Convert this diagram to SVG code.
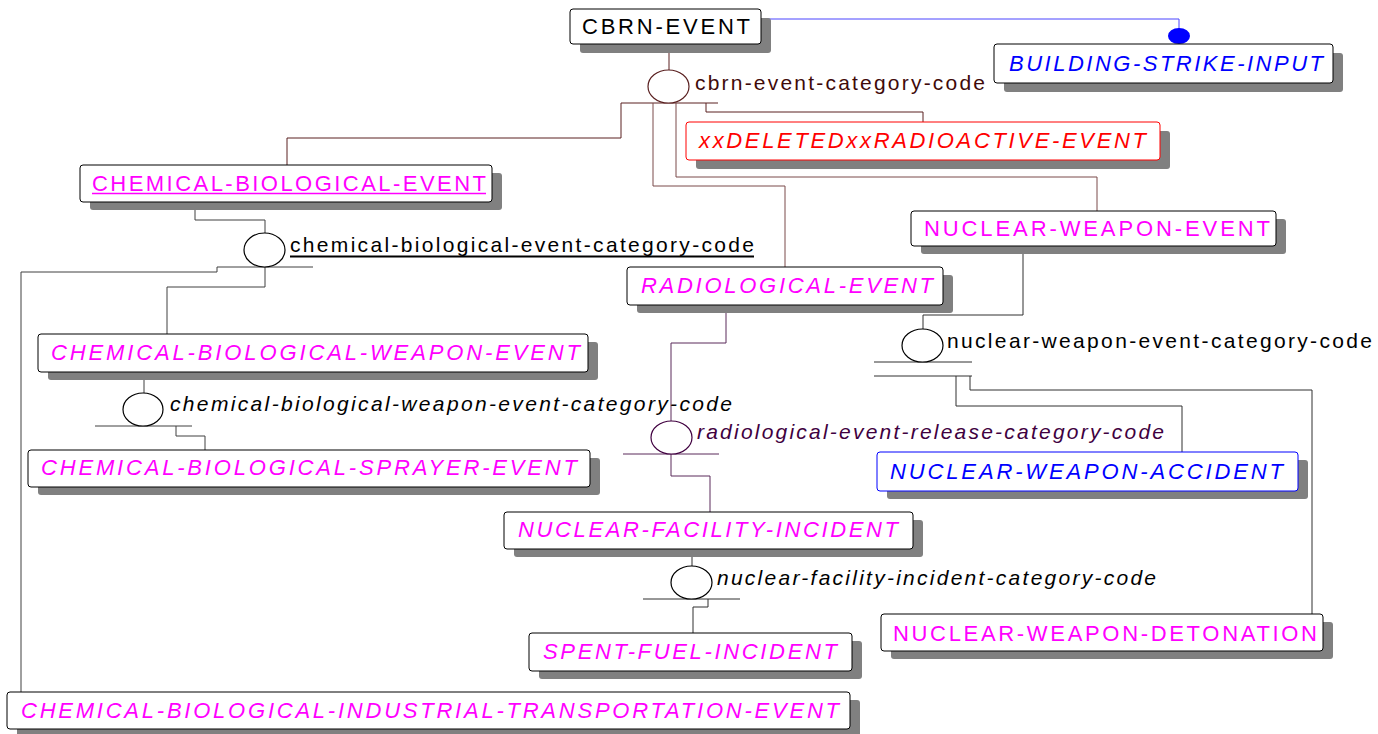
<svg xmlns="http://www.w3.org/2000/svg" width="1378" height="734" viewBox="0 0 1378 734">
<style>
.box{fill:#fff;stroke:#000;stroke-width:1}
.sh{fill:#808080}
.t{font-family:"Liberation Sans",Arial,sans-serif;font-size:22px}
.it{font-style:italic}
.mag{fill:#ff00ff}
.lbl{font-family:"Liberation Sans",Arial,sans-serif;font-size:21px}
.c{fill:none;stroke-width:1}
.ell{fill:#fff;stroke-width:1.2}
</style>
<rect width="1378" height="734" fill="#fff"/>
<g id="connectors">
  <polyline class="c" stroke="#4a44ff" points="761,19 1179,19 1179,30"/>
  <ellipse cx="1179" cy="36" rx="11" ry="8" fill="#0000ff"/>
  <g stroke="#5a2020">
    <polyline class="c" points="669,44 669,70"/>
    <polyline class="c" points="621,103 718,103"/>
    <polyline class="c" points="621,103 621,138 287,138 287,165"/>
    <polyline class="c" stroke="#7a4a4a" points="653,103 653,186 785,186 785,267"/>
    <polyline class="c" stroke="#7a4a4a" points="676,103 676,177 1097,177 1097,211"/>
    <polyline class="c" points="706,103 706,112 923,112 923,122"/>
    <ellipse class="ell" cx="668.5" cy="86.5" rx="20.5" ry="16.5"/>
  </g>
  <g stroke="#404040">
    <polyline class="c" points="195,202 195,220 265,220 265,233"/>
    <polyline class="c" points="217,267 313,267"/>
    <polyline class="c" points="217,267 217,272 21,272 21,692"/>
    <polyline class="c" points="265,267 265,287 167,287 167,334"/>
    <ellipse class="ell" stroke="#000" cx="264.5" cy="250" rx="20.5" ry="17"/>
    <polyline class="c" points="144,372 144,393"/>
    <polyline class="c" points="95,426 192,426"/>
    <polyline class="c" points="176,426 176,436 205,436 205,450"/>
    <ellipse class="ell" stroke="#000" cx="143" cy="409.5" rx="20" ry="16.5"/>
  </g>
  <g stroke="#5a2a5a">
    <polyline class="c" points="726,305 726,343 671,343 671,421"/>
    <polyline class="c" points="623,454 719,454"/>
    <polyline class="c" points="671,454 671,476 710,476 710,512"/>
    <ellipse class="ell" stroke="#400040" cx="671.5" cy="437.5" rx="20.5" ry="16.5"/>
  </g>
  <g stroke="#303030">
    <polyline class="c" points="1023,246 1023,315 923,315 923,329"/>
    <polyline class="c" points="874,362 972,362"/>
    <polyline class="c" points="874,376 972,376"/>
    <polyline class="c" points="956,376 956,406 1182,406 1182,452"/>
    <polyline class="c" points="970,376 970,390 1312,390 1312,614"/>
    <ellipse class="ell" stroke="#000" cx="922.5" cy="345.5" rx="20.5" ry="16.5"/>
    <polyline class="c" points="692,549 692,566"/>
    <polyline class="c" points="643,599 740,599"/>
    <polyline class="c" points="708,599 708,607 693,607 693,633"/>
    <ellipse class="ell" stroke="#000" cx="691.5" cy="582.5" rx="20.5" ry="16.5"/>
  </g>
  <text class="lbl" x="695" y="90" fill="#3f0a0a" textLength="290" lengthAdjust="spacing">cbrn-event-category-code</text>
  <text class="lbl" x="290" y="252" fill="#000" textLength="464" lengthAdjust="spacing">chemical-biological-event-category-code</text>
  <line x1="290" y1="256.5" x2="754" y2="256.5" stroke="#000" stroke-width="2"/>
  <text class="lbl it" x="170" y="411" fill="#000" textLength="562" lengthAdjust="spacing">chemical-biological-weapon-event-category-code</text>
  <text class="lbl" x="947" y="348" fill="#000" textLength="425" lengthAdjust="spacing">nuclear-weapon-event-category-code</text>
  <text class="lbl it" x="697" y="439" fill="#400040" textLength="467" lengthAdjust="spacing">radiological-event-release-category-code</text>
  <text class="lbl it" x="717" y="585" fill="#000" textLength="439" lengthAdjust="spacing">nuclear-facility-incident-category-code</text>
</g>
<g id="cbrn-event">
  <rect class="sh" x="580" y="18" width="191" height="35" rx="3"/>
  <rect class="box" x="570" y="9" width="191" height="35" rx="3"/>
  <text class="t" x="582" y="34" fill="#000" textLength="168" lengthAdjust="spacing">CBRN-EVENT</text>
</g>
<g id="building-strike-input">
  <rect class="sh" x="1004" y="53" width="339" height="39" rx="3"/>
  <rect class="box" x="994" y="44" width="339" height="39" rx="3"/>
  <text class="t it" x="1009" y="71" fill="#0000ff" textLength="314" lengthAdjust="spacing">BUILDING-STRIKE-INPUT</text>
</g>
<g id="deleted-radioactive-event">
  <rect class="sh" x="696" y="131" width="474" height="38" rx="3"/>
  <rect class="box" style="stroke:#ff0000" x="686" y="122" width="474" height="38" rx="3"/>
  <text class="t it" x="699" y="148" fill="#ff0000" textLength="447" lengthAdjust="spacing">xxDELETEDxxRADIOACTIVE-EVENT</text>
</g>
<g id="chemical-biological-event">
  <rect class="sh" x="90" y="173" width="412" height="37" rx="3"/>
  <rect class="box" x="80" y="165" width="412" height="37" rx="3"/>
  <text class="t mag" x="92" y="191" textLength="394" lengthAdjust="spacing">CHEMICAL-BIOLOGICAL-EVENT</text>
  <line x1="92" y1="193.5" x2="486" y2="193.5" stroke="#ff00ff" stroke-width="1.5"/>
</g>
<g id="nuclear-weapon-event">
  <rect class="sh" x="921" y="219" width="365" height="35" rx="3"/>
  <rect class="box" x="911" y="211" width="365" height="35" rx="3"/>
  <text class="t mag" x="924" y="236" textLength="346" lengthAdjust="spacing">NUCLEAR-WEAPON-EVENT</text>
</g>
<g id="radiological-event">
  <rect class="sh" x="637" y="275" width="316" height="38" rx="3"/>
  <rect class="box" x="627" y="267" width="316" height="38" rx="3"/>
  <text class="t it mag" x="641" y="293" textLength="292" lengthAdjust="spacing">RADIOLOGICAL-EVENT</text>
</g>
<g id="chemical-biological-weapon-event">
  <rect class="sh" x="48" y="342" width="550" height="38" rx="3"/>
  <rect class="box" x="38" y="334" width="550" height="38" rx="3"/>
  <text class="t it mag" x="51" y="360" textLength="529" lengthAdjust="spacing">CHEMICAL-BIOLOGICAL-WEAPON-EVENT</text>
</g>
<g id="chemical-biological-sprayer-event">
  <rect class="sh" x="38" y="458" width="562" height="37" rx="3"/>
  <rect class="box" x="28" y="450" width="562" height="37" rx="3"/>
  <text class="t it mag" x="41" y="475" textLength="536" lengthAdjust="spacing">CHEMICAL-BIOLOGICAL-SPRAYER-EVENT</text>
</g>
<g id="nuclear-weapon-accident">
  <rect class="sh" x="887" y="460" width="421" height="39" rx="3"/>
  <rect class="box" style="stroke:#0000ff" x="877" y="452" width="421" height="39" rx="3"/>
  <text class="t it" x="890" y="479" fill="#0000ff" textLength="393" lengthAdjust="spacing">NUCLEAR-WEAPON-ACCIDENT</text>
</g>
<g id="nuclear-facility-incident">
  <rect class="sh" x="514" y="520" width="409" height="37" rx="3"/>
  <rect class="box" x="504" y="512" width="409" height="37" rx="3"/>
  <text class="t it mag" x="518" y="537" textLength="380" lengthAdjust="spacing">NUCLEAR-FACILITY-INCIDENT</text>
</g>
<g id="nuclear-weapon-detonation">
  <rect class="sh" x="891" y="622" width="442" height="37" rx="3"/>
  <rect class="box" x="881" y="614" width="442" height="37" rx="3"/>
  <text class="t mag" x="893" y="641" textLength="424" lengthAdjust="spacing">NUCLEAR-WEAPON-DETONATION</text>
</g>
<g id="spent-fuel-incident">
  <rect class="sh" x="539" y="641" width="323" height="38" rx="3"/>
  <rect class="box" x="529" y="633" width="323" height="38" rx="3"/>
  <text class="t it mag" x="543" y="659" textLength="294" lengthAdjust="spacing">SPENT-FUEL-INCIDENT</text>
</g>
<g id="chemical-biological-industrial-transportation-event">
  <rect class="sh" x="17" y="700" width="843" height="37" rx="3"/>
  <rect class="box" x="7" y="692" width="843" height="37" rx="3"/>
  <text class="t it mag" x="21" y="718" textLength="818" lengthAdjust="spacing">CHEMICAL-BIOLOGICAL-INDUSTRIAL-TRANSPORTATION-EVENT</text>
</g>
</svg>
